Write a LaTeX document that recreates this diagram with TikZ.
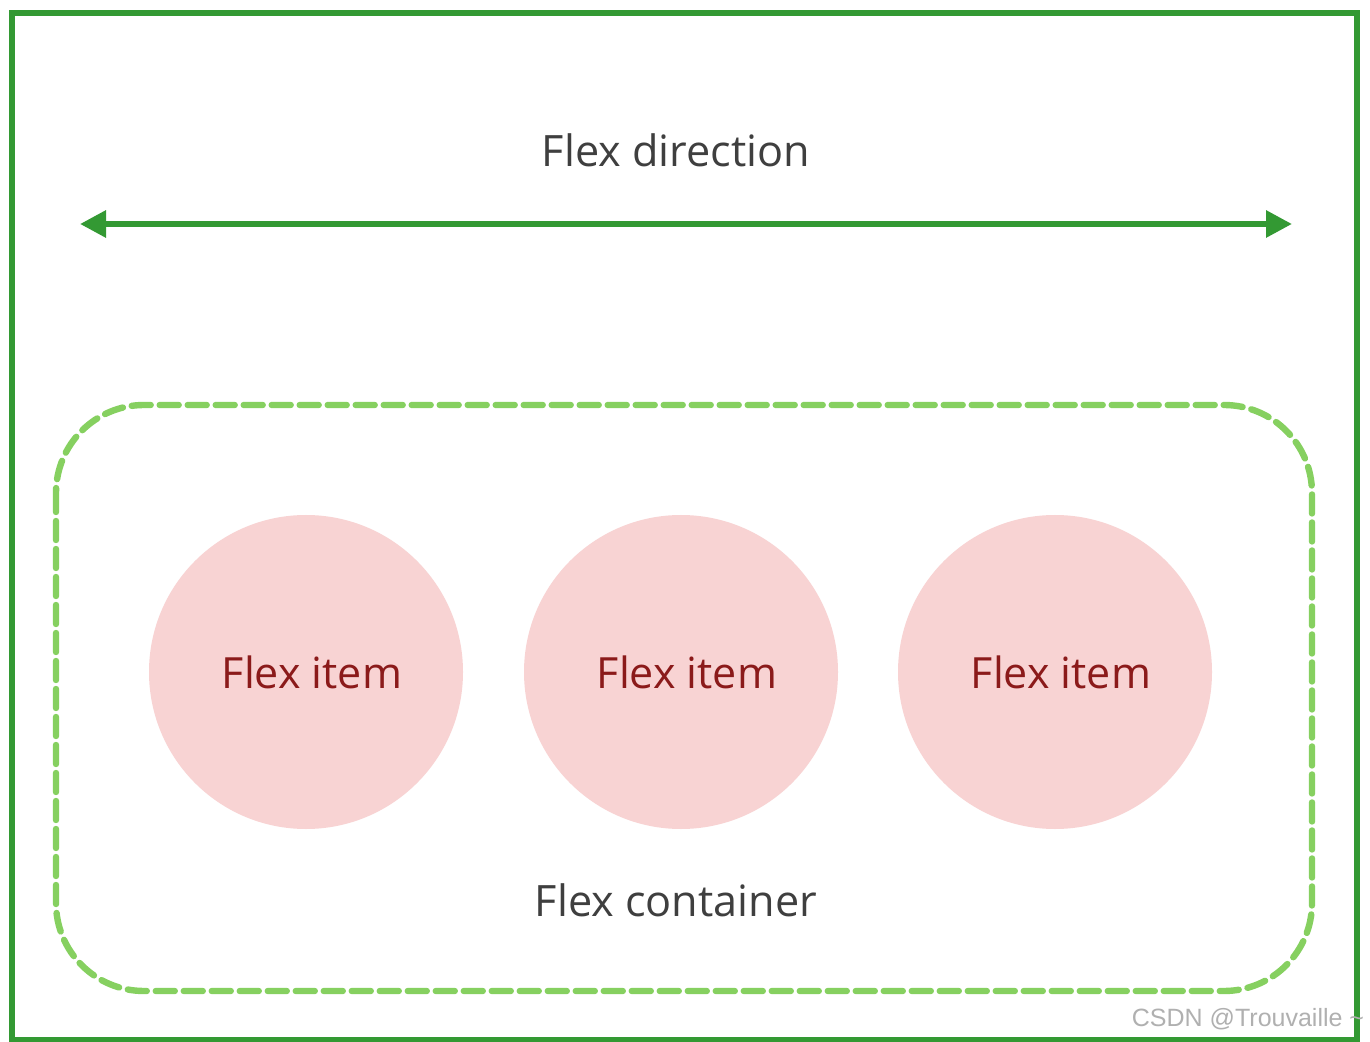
\documentclass[tikz,border=0pt]{standalone}
\usepackage{fontspec}
\setmainfont{Open Sans}
\newfontfamily\wmfont{Liberation Sans}
\usetikzlibrary{arrows.meta}
\definecolor{frameGreen}{HTML}{339933}
\definecolor{dashGreen}{HTML}{86D060}
\definecolor{itemPink}{HTML}{F8D3D3}
\definecolor{itemRed}{HTML}{8B1A1A}
\definecolor{labelGray}{HTML}{3F3F3F}
\definecolor{wmGray}{HTML}{B0B0B0}
\tikzset{
  frame/.style={draw=frameGreen, line width=3pt},
  dirarrow/.style={draw=frameGreen, line width=3pt, {Triangle[length=13pt,width=13pt]}-{Triangle[length=13pt,width=13pt]}},
  container/.style={draw=dashGreen, line width=3.2pt, dash pattern=on 9.5pt off 4.5pt, rounded corners=44pt, line cap=round},
  item/.style={circle, fill=itemPink, minimum size=157pt, inner sep=0pt, text=itemRed, font=\fontsize{21.5}{25}\selectfont},
  biglabel/.style={text=labelGray, font=\fontsize{21.6}{26}\selectfont, inner sep=0pt},
}
\begin{document}
\begin{tikzpicture}[x=0.5pt,y=-0.5pt]
\useasboundingbox (0,0) rectangle (1370,1042);
\fill[white] (0,0) rectangle (1370,1042);
\draw[frame] (12,13) rectangle (1357,1040);
\node[biglabel] (dir) at (676,150) {Flex direction};
\coordinate (aL) at (80,224);
\coordinate (aR) at (1292,224);
\draw[dirarrow] (aL) -- (aR);
\draw[container] (56,405) rectangle (1312,991);
\node[item] (i1) at (306,672) {\hspace*{6pt}Flex item};
\node[item] (i2) at (681,672) {\hspace*{6pt}Flex item};
\node[item] (i3) at (1055,672) {\hspace*{6pt}Flex item};
\node[biglabel] (cont) at (676,900) {Flex container};
\node[text=wmGray, font=\wmfont\fontsize{12.5}{14}\selectfont, inner sep=0pt] (wm) at (1248,1019) {CSDN @Trouvaille \textasciitilde};
\end{tikzpicture}
\end{document}
